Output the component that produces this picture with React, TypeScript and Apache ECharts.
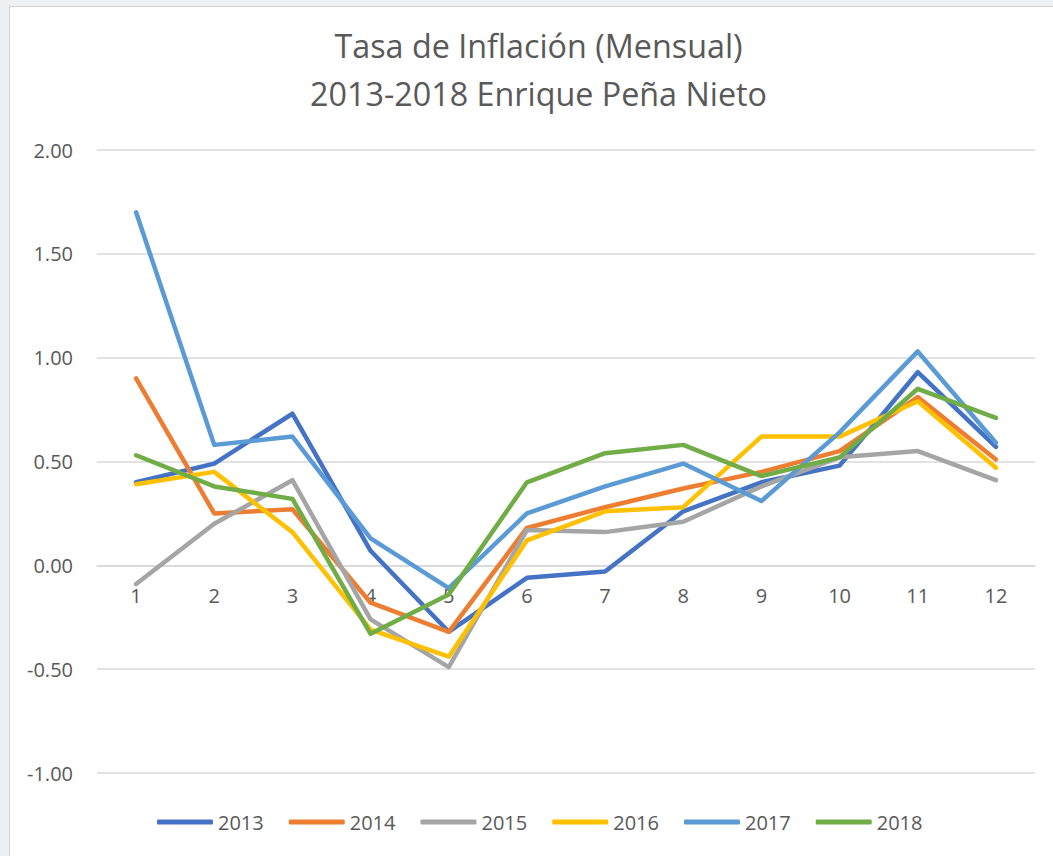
import React, { useEffect, useRef } from "react";
import * as echarts from "echarts";

const months = ["1", "2", "3", "4", "5", "6", "7", "8", "9", "10", "11", "12"];
const years = ["2013", "2014", "2015", "2016", "2017", "2018"];
const colors = ["#4472C4", "#ED7D31", "#A5A5A5", "#FFC000", "#5B9BD5", "#70AD47"];

const v2013 = [0.40, 0.49, 0.73, 0.07, -0.32, -0.06, -0.03, 0.26, 0.40, 0.48, 0.93, 0.57];
const v2014 = [0.90, 0.25, 0.27, -0.18, -0.32, 0.18, 0.28, 0.37, 0.45, 0.55, 0.81, 0.51];
const v2015 = [-0.09, 0.20, 0.41, -0.26, -0.49, 0.17, 0.16, 0.21, 0.38, 0.52, 0.55, 0.41];
const v2016 = [0.39, 0.45, 0.16, -0.31, -0.44, 0.12, 0.26, 0.28, 0.62, 0.62, 0.79, 0.47];
const v2017 = [1.70, 0.58, 0.62, 0.13, -0.11, 0.25, 0.38, 0.49, 0.31, 0.64, 1.03, 0.59];
const v2018 = [0.53, 0.38, 0.32, -0.33, -0.14, 0.40, 0.54, 0.58, 0.43, 0.52, 0.85, 0.71];
const seriesValues = [v2013, v2014, v2015, v2016, v2017, v2018];

const yMin = -1;
const yMax = 2;
const yInterval = 0.5;

const titleText = "Tasa de Inflación (Mensual)\n2013-2018 Enrique Peña Nieto";
const FONT = "'Open Sans', 'Noto Sans', sans-serif";
const TEXT_COLOR = "#595959";

const CHART_W = 1043;
const CHART_H = 849;
const GRID = { left: 87, right: 18, top: 143, bottom: 83 };

export default function App() {
  const ref = useRef<HTMLDivElement>(null);

  useEffect(() => {
    if (!ref.current) return;
    const chart = echarts.init(ref.current, undefined, { renderer: "svg" });
    const gridH = CHART_H - GRID.top - GRID.bottom;
    // place the category axis at value 0
    const xOffset = -gridH * (0 - yMin) / (yMax - yMin);
    chart.setOption({
      animation: false,
      color: colors,
      textStyle: { fontFamily: FONT },
      graphic: [
        {
          type: "text",
          x: 528.5,
          y: 14,
          style: {
            text: titleText,
            fontFamily: FONT,
            fontSize: 32.3,
            fill: TEXT_COLOR,
            lineHeight: 48,
            textAlign: "center",
            textVerticalAlign: "top",
          },
        },
      ],
      legend: {
        top: 800,
        left: 142,
        padding: 5,
        itemWidth: 56,
        itemHeight: 5,
        itemGap: 25,
        icon: "roundRect",
        data: years,
        textStyle: { fontFamily: FONT, fontSize: 20, color: TEXT_COLOR },
      },
      grid: { ...GRID, containLabel: false },
      xAxis: {
        type: "category",
        data: months,
        boundaryGap: true,
        position: "bottom",
        offset: xOffset,
        axisLine: { show: true, onZero: false, lineStyle: { color: "#D9D9D9", width: 1.5 } },
        axisTick: { show: false },
        axisLabel: { fontFamily: FONT, fontSize: 20, color: TEXT_COLOR, margin: 20 },
        splitLine: { show: false },
      },
      yAxis: {
        type: "value",
        min: yMin,
        max: yMax,
        interval: yInterval,
        axisLine: { show: false },
        axisTick: { show: false },
        axisLabel: {
          fontFamily: FONT,
          fontSize: 20,
          color: TEXT_COLOR,
          margin: 24,
          formatter: (v: number) => v.toFixed(2),
        },
        splitLine: { lineStyle: { color: "#D9D9D9", width: 1.5 } },
      },
      series: years.map((y, i) => ({
        name: y,
        type: "line",
        data: seriesValues[i],
        showSymbol: false,
        symbol: "none",
        lineStyle: { width: 4.5, color: colors[i], cap: "round", join: "round" },
        itemStyle: { color: colors[i] },
      })),
    });
    return () => chart.dispose();
  }, []);

  return (
    <div
      style={{
        position: "fixed",
        left: 0,
        top: 0,
        width: 1053,
        height: 856,
        background: "#eef1f4",
        overflow: "hidden",
      }}
    >
      <div
        style={{
          position: "absolute",
          left: 9,
          top: 6,
          width: 1044,
          height: 850,
          borderLeft: "1px solid #d4d4d4",
          borderTop: "1px solid #d4d4d4",
          background: "#ffffff",
        }}
      >
        <div ref={ref} style={{ width: CHART_W, height: CHART_H }} />
      </div>
    </div>
  );
}
